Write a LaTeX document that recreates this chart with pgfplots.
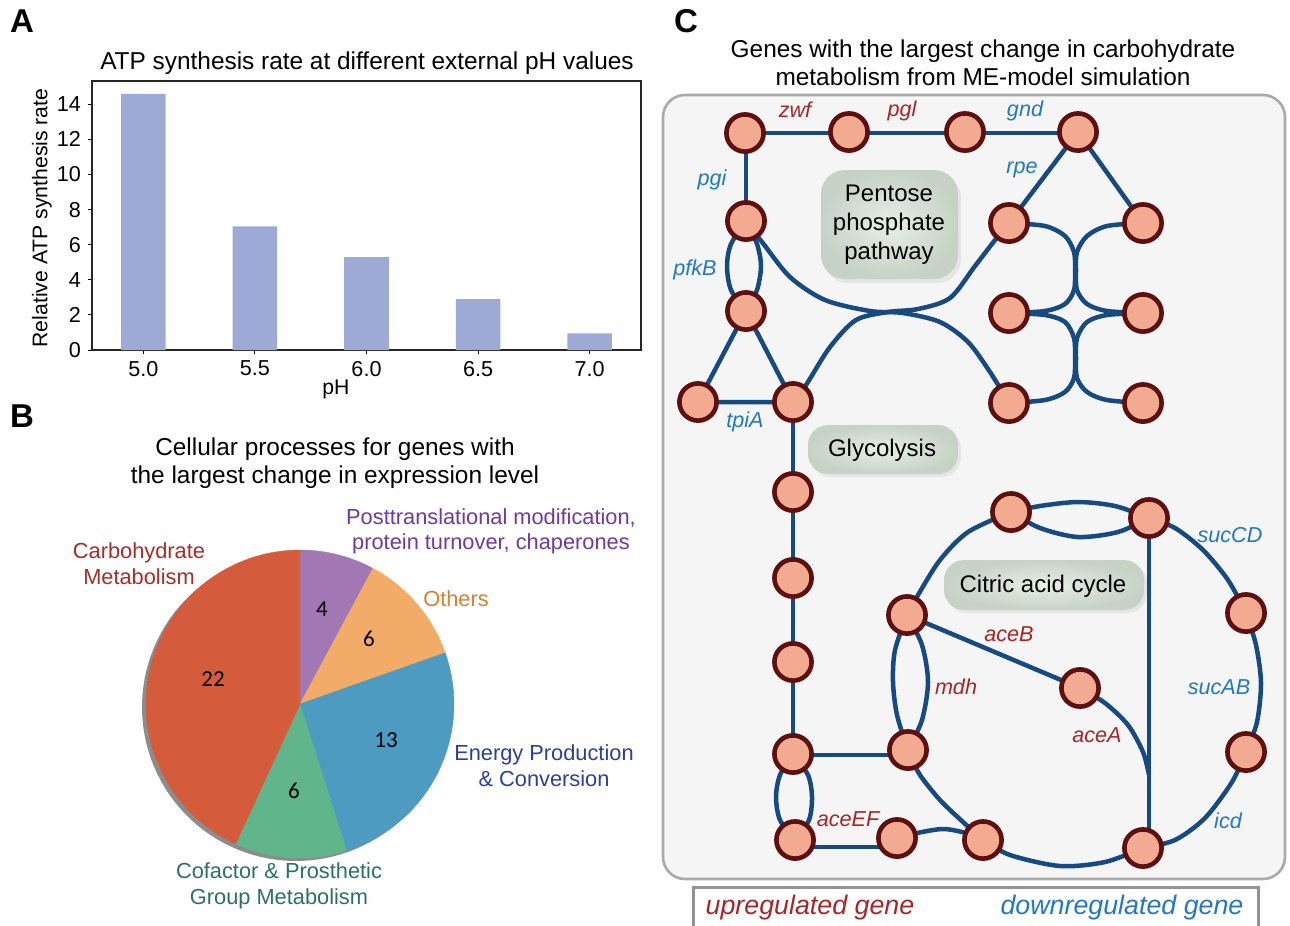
\documentclass[border=0pt]{standalone}
\usepackage{fontspec}
\setmainfont{Liberation Sans}
\newfontfamily\carlito{Carlito}
\usepackage{pgfplots}
\pgfplotsset{compat=1.18}
\definecolor{barc}{RGB}{157,170,213}
\definecolor{pred}{RGB}{212,91,60}
\definecolor{ppur}{RGB}{161,119,180}
\definecolor{porg}{RGB}{242,172,103}
\definecolor{pblu}{RGB}{78,155,194}
\definecolor{pgrn}{RGB}{96,182,138}
\definecolor{edgec}{RGB}{22,74,128}
\definecolor{nfill}{RGB}{242,170,145}
\definecolor{ndraw}{RGB}{92,16,16}
\definecolor{upc}{RGB}{165,38,40}
\definecolor{dnc}{RGB}{35,120,190}
\definecolor{bgc}{RGB}{245,245,245}
\definecolor{bgline}{RGB}{170,170,170}
\definecolor{lcarb}{RGB}{165,45,40}
\definecolor{lpost}{RGB}{112,56,160}
\definecolor{loth}{RGB}{214,128,50}
\definecolor{lene}{RGB}{45,62,155}
\definecolor{lcof}{RGB}{40,115,95}
\definecolor{boxin}{RGB}{232,238,230}
\definecolor{boxout}{RGB}{198,210,198}
\pgfplotsset{E/.style={draw=edgec, line width=2.25pt, no markers, line join=round}}
\begin{document}
\begin{tikzpicture}
\useasboundingbox (0,0) rectangle (645pt,-463pt);
% ---------- decorations for panel C ----------
\begin{scope}[x=0.5pt,y=-0.5pt]
\filldraw[fill=bgc, draw=bgline, line width=1.3pt, rounded corners=11pt] (663,95) rectangle (1285,879);
\fill[black!10, rounded corners=12pt] (824,174) rectangle (961,283);
\shade[rounded corners=12pt, inner color=boxin, outer color=boxout] (821,170) rectangle (958,279);
\fill[black!10, rounded corners=10pt] (811,429) rectangle (961,477);
\shade[rounded corners=10pt, inner color=boxin, outer color=boxout] (808,425) rectangle (958,474);
\fill[black!10, rounded corners=10pt] (947,563) rectangle (1147,613);
\shade[rounded corners=10pt, inner color=boxin, outer color=boxout] (944,560) rectangle (1144,610);
\node[align=center, font=\fontsize{12}{14.5}\selectfont] at (889,225) {Pentose\\phosphate\\pathway};
\node[font=\fontsize{12}{14}\selectfont] at (882,450) {Glycolysis};
\node[font=\fontsize{12}{14}\selectfont] at (1043,586) {Citric acid cycle};
\filldraw[fill=white, draw=gray!85, line width=1.5pt] (693,887) rectangle (1258,960);
\end{scope}
% ---------- Panel A ----------
\begin{axis}[at={(46pt,-175pt)}, anchor=south west, width=274.5pt, height=134.5pt, scale only axis,
 ybar, bar width=0.2,
 xmin=4.77, xmax=7.23, ymin=0, ymax=15.33,
 xtick={5,5.5,6,6.5,7}, xticklabels={5.0,5.5,6.0,6.5,7.0},
 ytick={0,2,4,6,8,10,12,14},
 tick align=outside, tick pos=left, major tick length=2pt,
 tick style={black, line width=0.5pt},
 axis line style={black!85, line width=0.6pt},
 tick label style={font=\fontsize{10.8}{12}\selectfont},
 /pgf/number format/assume math mode=true]
\addplot[fill=barc, draw=none] coordinates {(5.0,14.6) (5.5,7.05) (6.0,5.3) (6.5,2.9) (7.0,0.95)};
\end{axis}
% ---------- Panel B ----------
\begin{axis}[at={(73pt,-429pt)}, anchor=south west, width=154pt, height=154pt, scale only axis,
 xmin=-1, xmax=1, ymin=-1, ymax=1, hide axis, clip=false]
\addplot[fill=black!45, draw=none, domain=0:360, samples=120, data cs=polar, xshift=-2pt, yshift=-1.5pt] ({x},{1}) -- cycle;
\addplot[fill=ppur, draw=ppur, line width=0.2pt, domain=61.765:90, samples=30, data cs=polar] ({x},{1}) -- (axis cs:0,0) -- cycle;
\addplot[fill=porg, draw=porg, line width=0.2pt, domain=19.412:61.765, samples=30, data cs=polar] ({x},{1}) -- (axis cs:0,0) -- cycle;
\addplot[fill=pblu, draw=pblu, line width=0.2pt, domain=-72.353:19.412, samples=60, data cs=polar] ({x},{1}) -- (axis cs:0,0) -- cycle;
\addplot[fill=pgrn, draw=pgrn, line width=0.2pt, domain=-114.706:-72.353, samples=30, data cs=polar] ({x},{1}) -- (axis cs:0,0) -- cycle;
\addplot[fill=pred, draw=pred, line width=0.2pt, domain=90:245.294, samples=90, data cs=polar] ({x},{1}) -- (axis cs:0,0) -- cycle;
\end{axis}
% ---------- Panel C network ----------
\begin{axis}[at={(330pt,0pt)}, anchor=north west, width=315pt, height=463pt, scale only axis,
 xmin=660, xmax=1290, ymin=0, ymax=926, y dir=reverse, hide axis, clip=false]
\addplot[E] coordinates {(745,133) (1078,133)};
\addplot[E] coordinates {(746,133) (746,221)};
\addplot[E] coordinates {(698,402) (746,311) (793,402) (698,402)};
\addplot[E] coordinates {(1009,223) (1078,132) (1143,223)};
\addplot[E] coordinates {(793,402) (793,754)};
\addplot[E] coordinates {(793,755) (908,755)};
\addplot[E] coordinates {(795,847) (897,847)};
\addplot[E] coordinates {(907,615) (1080,688)};
\addplot[E] coordinates {(1149,518) (1149,848)};
\addplot[E, smooth] coordinates {(746,221) (731,244) (727,266) (731,290) (746,311)};
\addplot[E, smooth] coordinates {(746,221) (757,244) (761,266) (757,290) (746,311)};
\addplot[E, smooth] coordinates {(745,221) (762,242) (790,277) (825,300) (870,311) (903,313) (940,322) (968,342) (990,372) (1009,403)};
\addplot[E, smooth] coordinates {(793,402) (806,385) (830,347) (856,320) (888,312) (918,309) (950,298) (975,266) (995,240) (1009,223)};
\addplot[E, smooth] coordinates {(1009,223) (1045,226) (1065,236) (1074,252) (1075,270) (1074,290) (1065,304) (1045,311) (1009,313)};
\addplot[E, smooth] coordinates {(1143,223) (1107,226) (1087,236) (1077,252) (1076,270) (1077,290) (1087,304) (1107,311) (1143,313)};
\addplot[E, smooth] coordinates {(1009,313) (1045,315) (1065,322) (1074,338) (1075,358) (1074,378) (1065,392) (1045,400) (1009,403)};
\addplot[E, smooth] coordinates {(1143,313) (1107,315) (1087,322) (1077,338) (1076,358) (1077,378) (1087,392) (1107,400) (1143,403)};
\addplot[E, smooth] coordinates {(793,754) (780,775) (776,797) (780,820) (795,840)};
\addplot[E, smooth] coordinates {(793,754) (808,775) (812,797) (809,820) (795,840)};
\addplot[E, smooth] coordinates {(897,838) (922,832) (944,829) (966,833) (983,840)};
\addplot[E, smooth] coordinates {(983,840) (1010,855) (1060,866) (1105,862) (1143,848)};
\addplot[E, smooth] coordinates {(983,840) (963,822) (940,800) (920,775) (908,752)};
\addplot[E, smooth] coordinates {(907,615) (895,650) (893,682) (897,715) (908,750)};
\addplot[E, smooth] coordinates {(907,615) (922,645) (928,682) (922,720) (908,750)};
\addplot[E, smooth] coordinates {(907,615) (918,595) (940,560) (968,532) (1011,512)};
\addplot[E, smooth] coordinates {(1011,512) (1040,506) (1078,502) (1115,506) (1149,518)};
\addplot[E, smooth] coordinates {(1011,512) (1040,528) (1078,537) (1118,532) (1149,518)};
\addplot[E, smooth] coordinates {(1149,518) (1175,528) (1203,550) (1228,580) (1246,613)};
\addplot[E, smooth] coordinates {(1246,613) (1256,645) (1261,683) (1257,722) (1246,752)};
\addplot[E, smooth] coordinates {(1246,752) (1232,782) (1205,818) (1175,840) (1143,848)};
\addplot[E, smooth] coordinates {(1080,688) (1105,703) (1128,725) (1143,752) (1149,775)};
\addplot[only marks, mark=*, mark size=9.3pt, mark options={fill=nfill, draw=ndraw, line width=2.3pt}] coordinates {
(745,133) (849,132) (965,132) (1078,132)
(746,221) (746,311) (698,402) (793,402)
(1009,223) (1143,223) (1009,313) (1143,313) (1009,403) (1143,403)
(793,492) (793,578) (793,662) (793,754) (795,840)
(897,838) (983,840) (1143,848)
(1011,512) (1149,518) (1246,613) (1246,752)
(907,615) (908,750) (1080,688)};
\end{axis}
% ---------- texts ----------
\begin{scope}[x=0.5pt,y=-0.5pt]
\node[font=\bfseries\fontsize{16.5}{18}\selectfont] at (22,21) {A};
\node[font=\bfseries\fontsize{16.5}{18}\selectfont] at (22,416) {B};
\node[font=\bfseries\fontsize{16.5}{18}\selectfont] at (686,21) {C};
\node[font=\fontsize{12.2}{14}\selectfont] at (367,63) {ATP synthesis rate at different external pH values};
\node[rotate=90, font=\fontsize{10.6}{12}\selectfont] at (42,218) {Relative ATP synthesis rate};
\node[font=\fontsize{10.6}{12}\selectfont] at (336,389) {pH};
\node[align=center, font=\fontsize{12.2}{14}\selectfont] at (335,463) {Cellular processes for genes with\\the largest change in expression level};
\node[align=center, font=\fontsize{12.2}{14}\selectfont] at (983,63) {Genes with the largest change in carbohydrate\\metabolism from ME-model simulation};
\node[align=center, text=lcarb, font=\fontsize{10.9}{13}\selectfont] at (139,564) {Carbohydrate\\Metabolism};
\node[align=center, text=lpost, font=\fontsize{10.9}{12.5}\selectfont] at (491,531) {Posttranslational modification,\\protein turnover, chaperones};
\node[text=loth, font=\fontsize{10.9}{13}\selectfont] at (456,599) {Others};
\node[align=center, text=lene, font=\fontsize{10.9}{13}\selectfont] at (544,766) {Energy Production\\\& Conversion};
\node[align=center, text=lcof, font=\fontsize{10.9}{13}\selectfont] at (279,886) {Cofactor \& Prosthetic\\Group Metabolism};
\begin{scope}[every node/.style={font=\carlito\fontsize{11.5}{13}\selectfont}]
\node at (322,609) {4};
\node at (369,639) {6};
\node at (213,679) {22};
\node at (386,740) {13};
\node at (294,791) {6};
\end{scope}
\begin{scope}[every node/.style={font=\itshape\fontsize{10.8}{12}\selectfont}]
\node[text=upc] at (795,110) {zwf};
\node[text=upc] at (902,111) {pgl};
\node[text=dnc] at (1025,111) {gnd};
\node[text=dnc] at (712,180) {pgi};
\node[text=dnc] at (1022,170) {rpe};
\node[text=dnc] at (695,270) {pfkB};
\node[text=dnc] at (745,422) {tpiA};
\node[text=upc] at (848,819) {aceEF};
\node[text=upc] at (956,687) {mdh};
\node[text=upc] at (1009,634) {aceB};
\node[text=upc] at (1097,735) {aceA};
\node[text=dnc] at (1230,535) {sucCD};
\node[text=dnc] at (1219,687) {sucAB};
\node[text=dnc] at (1228,821) {icd};
\end{scope}
\node[text=upc, font=\itshape\fontsize{13.4}{15}\selectfont] at (810,908) {upregulated gene};
\node[text=dnc, font=\itshape\fontsize{13.4}{15}\selectfont] at (1122,908) {downregulated gene};
\end{scope}
\end{tikzpicture}
\end{document}
